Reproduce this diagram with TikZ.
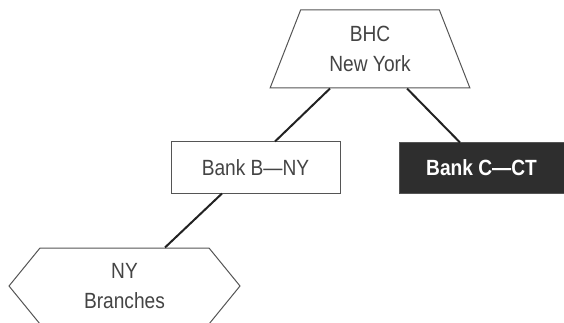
\documentclass[tikz,border=0pt]{standalone}
\usepackage{fontspec}
\setmainfont{Liberation Sans}[FakeStretch=0.87]
\usetikzlibrary{shapes.geometric,shapes.symbols}
\definecolor{txt}{HTML}{444444}
\definecolor{edge}{HTML}{555555}
\definecolor{conn}{HTML}{222222}
\definecolor{darkfill}{HTML}{2E2E2E}
\tikzset{
  lbl/.style={font=\fontsize{22}{30}\selectfont, text=txt, align=center, inner sep=0pt},
  outl/.style={draw=edge, line width=1pt, fill=white},
  conn/.style={draw=conn, line width=2pt},
}
\begin{document}
\begin{tikzpicture}[x=1pt,y=-1pt]
\useasboundingbox (0,0) rectangle (564,323);
\node[outl, lbl, shape=trapezium, trapezium stretches=true,
      trapezium left angle=68.6, trapezium right angle=68.6,
      minimum width=200pt, minimum height=78pt] (bhc) at (370,49) {BHC\\New York};
\node[outl, lbl, rectangle, minimum width=169pt, minimum height=51pt] (bankb) at (255.5,167.5) {Bank B---NY};
\node[lbl, rectangle, fill=darkfill, draw=edge, line width=1pt, text=white, font=\fontsize{22}{30}\selectfont\bfseries,
      minimum width=165pt, minimum height=50pt] (bankc) at (481.5,168) {Bank C---CT};
\node[outl, lbl, shape=signal, signal to=east and west, signal pointer angle=101.6,
      minimum width=231pt, minimum height=76pt] (ny) at (124.5,286) {NY\\Branches};
\draw[conn] ([xshift=-40pt]bhc.south) -- ([xshift=19.5pt]bankb.north);
\draw[conn] ([xshift=37pt]bhc.south) -- ([xshift=-21.5pt]bankc.north);
\draw[conn] ([xshift=-33.5pt]bankb.south) -- ([xshift=40.5pt]ny.north);
\end{tikzpicture}
\end{document}
